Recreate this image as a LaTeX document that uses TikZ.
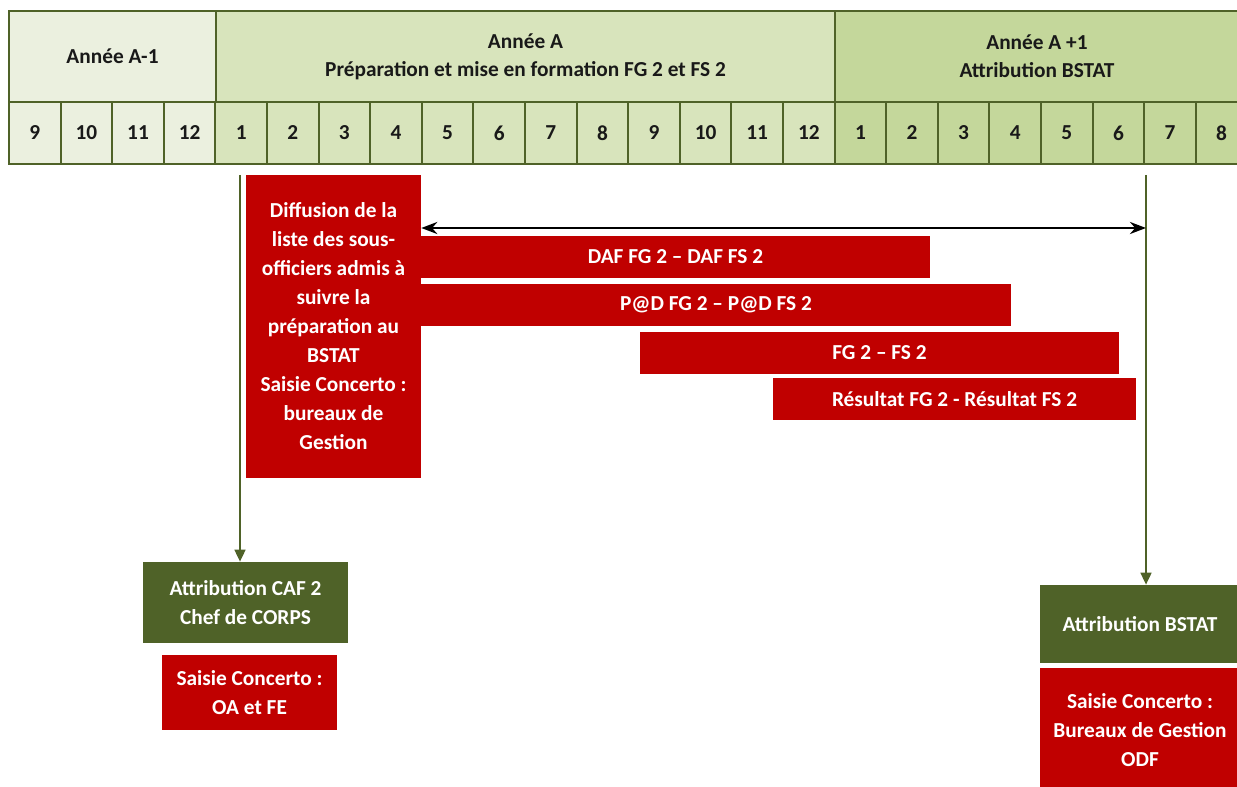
\documentclass[tikz,border=0pt]{standalone}
\usepackage{fontspec}
\setmainfont{Carlito}
\usetikzlibrary{fit,arrows.meta}
\definecolor{hdrline}{RGB}{79,98,40}
\definecolor{barred}{RGB}{192,0,0}
\definecolor{boxgreen}{RGB}{79,98,40}
\definecolor{yrprev}{RGB}{235,240,223}
\definecolor{yrcur}{RGB}{216,228,188}
\definecolor{yrnext}{RGB}{196,215,155}
\begin{document}
\begin{tikzpicture}[x=0.75pt,y=0.75pt,yscale=-1,xscale=1,
  cell/.style={draw=hdrline, line width=1.5pt, inner sep=0pt},
  hdrtext/.style={text=black!90, align=center, inner sep=0pt,
    font=\bfseries\fontsize{16}{21}\selectfont},
  redbox/.style={fill=barred, inner sep=0pt},
  greenbox/.style={fill=boxgreen, inner sep=0pt},
  boxtext/.style={text=white, align=center, inner sep=0pt,
    font=\bfseries\fontsize{16}{21.75}\selectfont},
  conn/.style={draw=hdrline, line width=1.8pt, -{Triangle[length=9pt,width=8pt]}}]
\useasboundingbox (0,0) rectangle (1237,787);
% years
\node[cell, fill=yrprev, fit={(9,11) (216,102)}, label={[hdrtext]center:Année A-1}] (anprev) {};
\node[cell, fill=yrcur, fit={(216,11) (835,102)}, label={[hdrtext]center:Année A\\Préparation et mise en formation FG 2 et FS 2}] (ancur) {};
\node[cell, fill=yrnext, fit={(835,11) (1239,102)}, label={[hdrtext]center:Année A +1\\Attribution BSTAT}] (annext) {};
% months
\foreach \m [count=\i from 0] in {9,10,11,12}
  \node[cell, fill=yrprev, fit={({9+\i*51.6},102) ({60.6+\i*51.6},164)}, label={[hdrtext]center:\m}] (m\i) {};
\foreach \m [count=\i from 4] in {1,...,12}
  \node[cell, fill=yrcur, fit={({9+\i*51.6},102) ({60.6+\i*51.6},164)}, label={[hdrtext]center:\m}] (m\i) {};
\foreach \m [count=\i from 16] in {1,...,8}
  \node[cell, fill=yrnext, fit={({9+\i*51.6},102) ({60.6+\i*51.6},164)}, label={[hdrtext]center:\m}] (m\i) {};
% boxes
\node[redbox, fit={(246,175) (421,478)}, label={[boxtext]center:Diffusion de la\\liste des sous-\\officiers admis à\\suivre la\\préparation au\\BSTAT\\Saisie Concerto :\\bureaux de\\Gestion}] (diff) {};
\node[redbox, fit={(421,236) (930,278)}, label={[boxtext]center:DAF FG 2 – DAF FS 2}] (daf) {};
\node[redbox, fit={(421,284) (1011,326)}, label={[boxtext]center:P@D FG 2 – P@D FS 2}] (pad) {};
\node[redbox, fit={(640,332) (1119,374)}, label={[boxtext]center:FG 2 – FS 2}] (fgfs) {};
\node[redbox, fit={(773,378) (1136,420)}, label={[boxtext]center:Résultat FG 2 - Résultat FS 2}] (result) {};
\node[greenbox, fit={(143,562) (348,643)}, label={[boxtext]center:Attribution CAF 2\\Chef de CORPS}] (caf) {};
\node[redbox, fit={(162,655) (337,730)}, label={[boxtext]center:Saisie Concerto :\\OA et FE}] (oafe) {};
\node[greenbox, fit={(1040,585) (1240,663)}, label={[boxtext]center:Attribution BSTAT}] (bstat) {};
\node[redbox, fit={(1040,668) (1240,792)}, label={[boxtext]center:Saisie Concerto :\\Bureaux de Gestion\\ODF}] (odf) {};
% connectors
\coordinate (lstart) at (240,175);
\coordinate (rstart) at (1146,175);
\coordinate (spany) at (0,228);
\draw[conn] (lstart) -- (lstart |- caf.north);
\draw[conn] (rstart) -- (rstart |- bstat.north);
\draw[line width=2pt, {Stealth[length=12pt,width=9pt]}-{Stealth[length=12pt,width=9pt]}] (diff.east |- spany) -- (rstart |- spany);
\end{tikzpicture}
\end{document}
